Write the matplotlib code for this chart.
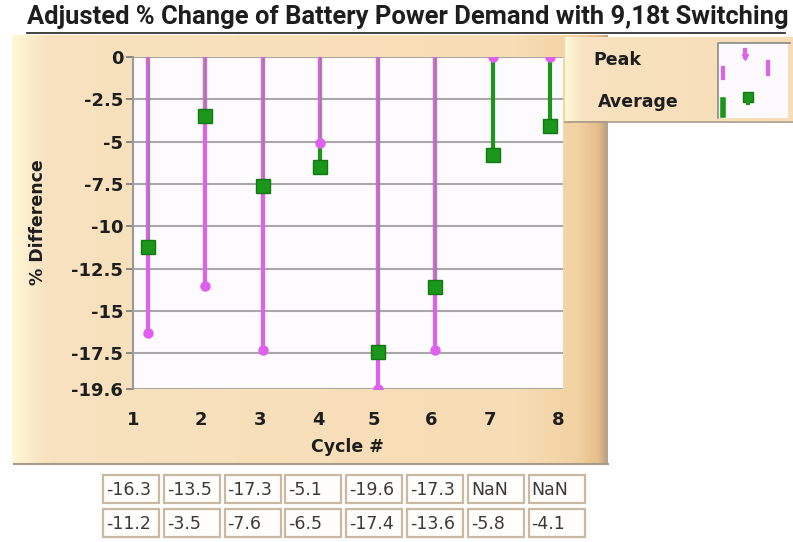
import numpy as np
import matplotlib
matplotlib.use('Agg')
import matplotlib.pyplot as plt
from matplotlib.patches import Rectangle
from matplotlib.colors import LinearSegmentedColormap

cycles = [1, 2, 3, 4, 5, 6, 7, 8]
peak = [-16.3, -13.5, -17.3, -5.1, -19.6, -17.3, np.nan, np.nan]
average = [-11.2, -3.5, -7.6, -6.5, -17.4, -13.6, -5.8, -4.1]
y_ticks = [0, -2.5, -5, -7.5, -10, -12.5, -15, -17.5, -19.6]
y_tick_labels = ['0', '-2.5', '-5', '-7.5', '-10', '-12.5', '-15', '-17.5', '-19.6']
x_tick_pos = [0.74, 1.93, 2.96, 3.96, 4.93, 5.93, 6.96, 8.14]
x_tick_labels = ['1', '2', '3', '4', '5', '6', '7', '8']

PINK = '#DF5FEF'
GREEN = '#1A961A'
DARK_GREEN = '#127812'
W, H = 793, 542

plt.rcParams['font.family'] = ['DejaVu Sans']
plt.rcParams['axes.unicode_minus'] = False

fig = plt.figure(figsize=(W / 100, H / 100), dpi=100, facecolor='white')

# pixel-space background layer for panel, legend box and indicator table
bg = fig.add_axes([0, 0, 1, 1], zorder=-10)
bg.set_xlim(0, W)
bg.set_ylim(H, 0)
bg.axis('off')

panel_cmap = LinearSegmentedColormap.from_list('panel', [
    (0.0, '#FFF8D6'), (0.03, '#FAEBCB'), (0.06, '#F8E2BF'),
    (0.85, '#F7DDB5'), (0.95, '#F2D2A2'), (0.985, '#E6BE8C'), (1.0, '#B9A285')])
grad = np.linspace(0, 1, 256).reshape(1, -1)
bg.imshow(grad, cmap=panel_cmap, aspect='auto', extent=[12, 608, 463, 35], zorder=0)
bg.plot([14, 608], [464, 464], color='#A89A88', lw=1.5, zorder=1)

# legend box
bg.imshow(grad, cmap=panel_cmap, aspect='auto', extent=[565, 880, 121, 37], zorder=2)
bg.plot([565, 793], [122, 122], color='#A89A88', lw=1.2, zorder=3)
bg.add_patch(Rectangle((718, 43), 70, 75, facecolor='#FDFAFD', edgecolor='none', zorder=3))
bg.plot([718, 718, 790], [118, 43, 43], color='#8A8A8A', lw=1.2, zorder=4)
bg.text(593, 60, 'Peak', fontsize=12.5, fontweight='bold', color='#1E1E1E', va='center', ha='left', zorder=5)
bg.text(598, 102, 'Average', fontsize=12.5, fontweight='bold', color='#1E1E1E', va='center', ha='left', zorder=5)
# legend glyphs
bg.plot([745, 745], [50, 57], color=PINK, lw=3, zorder=5)
bg.plot([745], [57], marker='v', color=PINK, ms=5, zorder=5)
bg.plot([723, 723], [68, 78], color=PINK, lw=3, zorder=5)
bg.plot([768, 768], [62, 74], color=PINK, lw=3, zorder=5)
bg.plot([723, 723], [100, 115], color=GREEN, lw=4, zorder=5)
bg.plot([748], [97], marker='s', color=GREEN, mec=DARK_GREEN, ms=7, zorder=5)
bg.plot([748, 748], [97, 103], color=GREEN, lw=3, zorder=5)

# title with underline
title = fig.text(27 / W, 1 - 17 / H, 'Adjusted % Change of Battery Power Demand with 9,18t Switching',
                 fontsize=13, fontweight='bold', color='#1E1E1E', ha='left', va='center',
                 family=['Roboto', 'DejaVu Sans'])
fig.canvas.draw()
tw = title.get_window_extent().width
title.set_fontsize(13 * 758 / tw)
bg.plot([27, 785], [33, 33], color='#333333', lw=1.3)

# main plot
ax = fig.add_axes([133 / W, 1 - 389 / H, 430 / W, 332 / H])
ax.set_facecolor('#FDFBFD')
ax.set_xlim(0.757, 8.226)
ax.set_ylim(-19.6, 0)

peak_arr = np.array(peak)
avg_arr = np.array(average)
peak_stem = np.nan_to_num(peak_arr, nan=0.0)
core = np.maximum(avg_arr, peak_stem)

ax.vlines(cycles, 0, avg_arr, color=GREEN, lw=3.0, zorder=3)
ax.vlines(cycles, 0, peak_stem, color=PINK, lw=3.0, zorder=4)
ax.vlines(cycles, 0, core, color='#859277', lw=0.9, zorder=5)
ax.plot(cycles, peak_stem, 'o', color=PINK, ms=6.5, mec=PINK, zorder=6)
ax.plot(cycles, avg_arr, 's', color=GREEN, ms=9.5, mec=DARK_GREEN, mew=1.0, zorder=7)

ax.set_yticks(y_ticks)
ax.set_yticklabels(y_tick_labels, fontsize=13, fontweight='bold', color='#1E1E1E')
ax.yaxis.grid(True, color='#A8A8A8', lw=1.5, zorder=1)
ax.tick_params(axis='y', length=5, width=1.2, color='#777777', pad=2)

ax.set_xticks(x_tick_pos)
ax.set_xticklabels(x_tick_labels, fontsize=13, fontweight='bold', color='#1E1E1E')
ax.tick_params(axis='x', length=0, pad=16)

for side in ['top', 'right', 'bottom']:
    ax.spines[side].set_visible(False)
ax.spines['left'].set_color('#9A9A9A')
ax.spines['left'].set_linewidth(1.5)

fig.text(347 / W, 1 - 447 / H, 'Cycle #', fontsize=12.5, fontweight='bold', color='#1E1E1E',
         ha='center', va='center')
fig.text(38 / W, 1 - 222 / H, '% Difference', fontsize=12.5, fontweight='bold', color='#1E1E1E',
         ha='center', va='center', rotation=90)

# indicator table under the chart
def fmt(v):
    return 'NaN' if np.isnan(v) else f'{v:.1f}'

cell_x0, cell_pitch, cell_w, cell_h = 103, 60.8, 56, 28
for row, (vals, top) in enumerate([(peak, 475), (average, 509)]):
    for i, v in enumerate(vals):
        x = cell_x0 + i * cell_pitch
        bg.add_patch(Rectangle((x, top), cell_w, cell_h, facecolor='#FFFEFC',
                               edgecolor='#C9B9A2', lw=1.6, zorder=2))
        bg.text(x + 3, top + cell_h / 2 + 1, fmt(v), fontsize=12.5, color='#3A3A3A',
                ha='left', va='center', zorder=3)

fig.savefig('out.png', dpi=100, facecolor='white')
